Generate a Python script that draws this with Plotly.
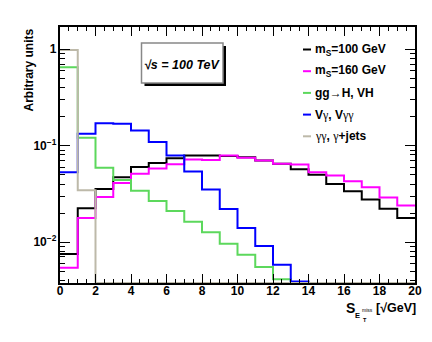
import plotly.graph_objects as go

# ---------------- data ----------------
bin_edges = [0, 1, 2, 3, 4, 5, 6, 7, 8, 9, 10, 11, 12, 13, 14, 15, 16, 17, 18, 19, 20]
ms100 = [0.0075, 0.0224, 0.0355, 0.047, 0.060, 0.066, 0.074, 0.079, 0.079, 0.078,
         0.076, 0.070, 0.065, 0.057, 0.050, 0.040, 0.0336, 0.0276, 0.0222, 0.0178]
ms160 = [0.0054, 0.0178, 0.0293, 0.041, 0.051, 0.058, 0.064, 0.072, 0.071, 0.079,
         0.075, 0.070, 0.065, 0.0636, 0.053, 0.049, 0.0427, 0.037, 0.029, 0.024]
ggh = [0.65, 0.121, 0.059, 0.044, 0.034, 0.0267, 0.021, 0.0162, 0.0126, 0.0096,
       0.0074, 0.0055, 0.0041, 0, 0, 0, 0, 0, 0, 0]
vgam = [0.053, 0.133, 0.171, 0.169, 0.144, 0.109, 0.079, 0.054, 0.035, 0.022,
        0.014, 0.0091, 0.0058, 0.0039, 0, 0, 0, 0, 0, 0]
gamgam = [0.98, 0.0344, 0, 0, 0, 0, 0, 0, 0, 0,
          0, 0, 0, 0, 0, 0, 0, 0, 0, 0]

SERIF = "<span style='font-family:Liberation Serif;font-weight:normal'>{}</span>"
series_names = ["m<sub>S</sub>=100 GeV", "m<sub>S</sub>=160 GeV",
                "gg" + SERIF.format("→") + "H, VH",
                "V" + SERIF.format("γ") + ", V" + SERIF.format("γγ"),
                SERIF.format("γγ") + ", " + SERIF.format("γ") + "+jets"]
series_vals = [ms100, ms160, ggh, vgam, gamgam]
series_colors = ["#000000", "#ff00ff", "#5cd85c", "#0000ff", "#bdb9a9"]

x_ticks = [0, 2, 4, 6, 8, 10, 12, 14, 16, 18, 20]

# ---------------- layout geometry (screen pixels) ----------------
OFF = 8                      # default body margin of the html page
W, H = 432 - 2 * OFF, 342 - 2 * OFF
L, R, T, B = 60, 415, 27, 283   # plot frame in screenshot pixels
ylog_min, ylog_max = -2.425, 0.231
ymin_val = 10 ** ylog_min
FONT = "Liberation Sans, Arial, sans-serif"


def px_x(p):
    return (p - L) / (R - L)


def px_y(p):
    return (B - p) / (B - T)


fig = go.Figure()
for name, vals, col in zip(series_names, series_vals, series_colors):
    yv = [max(v, ymin_val) for v in vals] + [max(vals[-1], ymin_val)]
    fig.add_trace(go.Scatter(x=bin_edges, y=yv, mode="lines", line_shape="hv",
                             line=dict(color=col, width=2), name=name,
                             showlegend=False, hoverinfo="skip"))

shapes = []
annotations = []

# text box with shadow
bx0, bx1, by0, by1 = 141.5, 223, 43, 83
shapes.append(dict(type="rect", xref="paper", yref="paper",
                   x0=px_x(bx0 + 3), x1=px_x(bx1 + 3), y0=px_y(by1 + 3), y1=px_y(by0 + 3),
                   fillcolor="black", line=dict(width=0)))
shapes.append(dict(type="rect", xref="paper", yref="paper",
                   x0=px_x(bx0), x1=px_x(bx1), y0=px_y(by1), y1=px_y(by0),
                   fillcolor="white", line=dict(color="#888888", width=1.5)))
annotations.append(dict(xref="paper", yref="paper", x=px_x((bx0 + bx1) / 2), y=px_y(65),
                        text="<b><i>√s = 100 TeV</i></b>", showarrow=False,
                        xanchor="center", yanchor="middle",
                        font=dict(family=FONT, size=12.5, color="black")))

# legend (manual)
leg_y0, leg_dy = 49.5, 21.7
for i, (name, col) in enumerate(zip(series_names, series_colors)):
    yy = leg_y0 + i * leg_dy
    shapes.append(dict(type="line", xref="paper", yref="paper",
                       x0=px_x(303), x1=px_x(311), y0=px_y(yy), y1=px_y(yy),
                       line=dict(color=col, width=2)))
    annotations.append(dict(xref="paper", yref="paper", x=px_x(312.5), y=px_y(yy),
                            text="<b>" + name + "</b>", showarrow=False,
                            xanchor="left", yanchor="middle",
                            font=dict(family=FONT, size=12, color="black")))

# axis titles
annotations.append(dict(xref="paper", yref="paper", x=px_x(28), y=1.0,
                        text="<b>Arbitrary units</b>", textangle=-90, showarrow=False,
                        xanchor="center", yanchor="top",
                        font=dict(family=FONT, size=12, color="black")))
annotations.append(dict(xref="paper", yref="paper", x=px_x(418), y=px_y(308),
                        text="<b>[√GeV]</b>", showarrow=False,
                        xanchor="right", yanchor="middle",
                        font=dict(family=FONT, size=12.5, color="black", weight="bold")))
annotations.append(dict(xref="paper", yref="paper", x=px_x(343.5), y=px_y(307.5),
                        text="<b>S</b>", showarrow=False,
                        xanchor="left", yanchor="middle",
                        font=dict(family=FONT, size=14, color="black", weight="bold")))
annotations.append(dict(xref="paper", yref="paper", x=px_x(353), y=px_y(315.5),
                        text="<b>E</b>", showarrow=False,
                        xanchor="left", yanchor="middle",
                        font=dict(family=FONT, size=7.5, color="black")))
annotations.append(dict(xref="paper", yref="paper", x=px_x(359.5), y=px_y(309.5),
                        text="miss", showarrow=False,
                        xanchor="left", yanchor="middle",
                        font=dict(family=FONT, size=5, color="black")))
annotations.append(dict(xref="paper", yref="paper", x=px_x(360.5), y=px_y(320),
                        text="<b>T</b>", showarrow=False,
                        xanchor="left", yanchor="middle",
                        font=dict(family=FONT, size=5.5, color="black")))

fig.update_layout(
    width=W, height=H,
    margin=dict(l=L - OFF, r=W - (R - OFF), t=T - OFF, b=H - (B - OFF), pad=0, autoexpand=False),
    paper_bgcolor="white", plot_bgcolor="white",
    showlegend=False,
    shapes=shapes, annotations=annotations,
    font=dict(family=FONT, color="black"),
)
fig.update_xaxes(range=[0, 20], tickvals=x_ticks, ticktext=[str(v) for v in x_ticks],
                 ticks="inside", ticklen=9, tickwidth=1, tickcolor="black",
                 minor=dict(dtick=0.5, ticks="inside", ticklen=4.5, tickwidth=1, tickcolor="black"),
                 showline=True, linecolor="black", linewidth=1.5, mirror="allticks",
                 showgrid=False, zeroline=False, ticklabelstandoff=-4,
                 tickfont=dict(family=FONT, size=12, color="black", weight="bold"))
fig.update_yaxes(type="log", range=[ylog_min, ylog_max], dtick=1, exponentformat="power",
                 ticks="inside", ticklen=10, tickwidth=1, tickcolor="black",
                 minor=dict(dtick="D1", ticks="inside", ticklen=5, tickwidth=1, tickcolor="black"),
                 showline=True, linecolor="black", linewidth=1.5, mirror="allticks",
                 showgrid=False, zeroline=False,
                 tickfont=dict(family=FONT, size=9.6, color="black", weight="bold"))

fig.write_html("out.html")
